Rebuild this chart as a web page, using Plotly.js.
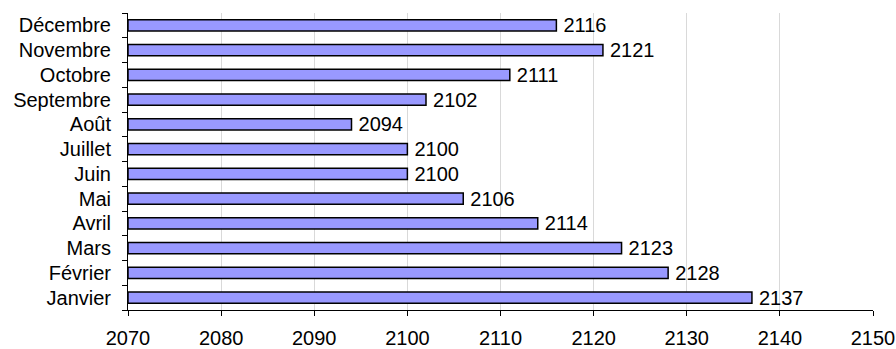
<!DOCTYPE html>
<html>
<head>
<meta charset="utf-8">
<script src="https://cdn.plot.ly/plotly-3.0.1.min.js"></script>
<style>
  html, body { margin: 0; padding: 0; background: #ffffff; }
  #chart { width: 896px; height: 349px; }
</style>
</head>
<body>
<div id="chart"></div>
<script>
// Monthly values, January at the bottom of the axis
const months = ["Janvier", "Février", "Mars", "Avril", "Mai", "Juin",
                "Juillet", "Août", "Septembre", "Octobre", "Novembre", "Décembre"];
const values = [2137, 2128, 2123, 2114, 2106, 2100, 2100, 2094, 2102, 2111, 2121, 2116];
const xTicks = [2070, 2080, 2090, 2100, 2110, 2120, 2130, 2140, 2150];

const font = "Liberation Sans, Arial, sans-serif";
const fontSize = 20;

const trace = {
  type: "bar",
  orientation: "h",
  y: months,
  x: values.map(v => v - 2070),
  base: 2070,
  // thin space keeps the value label a little away from the bar end
  text: values.map(v => "\u2009" + v),
  textposition: "outside",
  constraintext: "none",
  cliponaxis: false,
  textfont: { family: font, size: fontSize, color: "#000000" },
  marker: { color: "#9999ff", line: { color: "#000000", width: 1.5 } },
  hoverinfo: "none"
};

const layout = {
  width: 896,
  height: 349,
  margin: { l: 128, r: 23, t: 13, b: 39 },
  paper_bgcolor: "#ffffff",
  plot_bgcolor: "#ffffff",
  showlegend: false,
  bargap: 0.55,
  font: { family: font, size: fontSize, color: "#000000" },
  xaxis: {
    range: [2070, 2150],
    tickvals: xTicks,
    ticktext: xTicks.map(String),
    showgrid: true,
    gridcolor: "#d9d9d9",
    gridwidth: 1,
    zeroline: false,
    showline: true,
    linecolor: "#000000",
    linewidth: 1,
    ticks: "outside",
    ticklen: 5,
    tickcolor: "#000000",
    ticklabelstandoff: 5,
    tickfont: { family: font, size: fontSize, color: "#000000" }
  },
  yaxis: {
    type: "category",
    categoryorder: "array",
    categoryarray: months,
    showgrid: false,
    zeroline: false,
    showline: true,
    linecolor: "#000000",
    linewidth: 1,
    ticks: "outside",
    tickson: "boundaries",
    ticklen: 5,
    tickcolor: "#000000",
    ticklabelstandoff: 12,
    tickfont: { family: font, size: fontSize, color: "#000000" }
  }
};

Plotly.newPlot("chart", [trace], layout, { displayModeBar: false, staticPlot: true });
</script>
</body>
</html>
